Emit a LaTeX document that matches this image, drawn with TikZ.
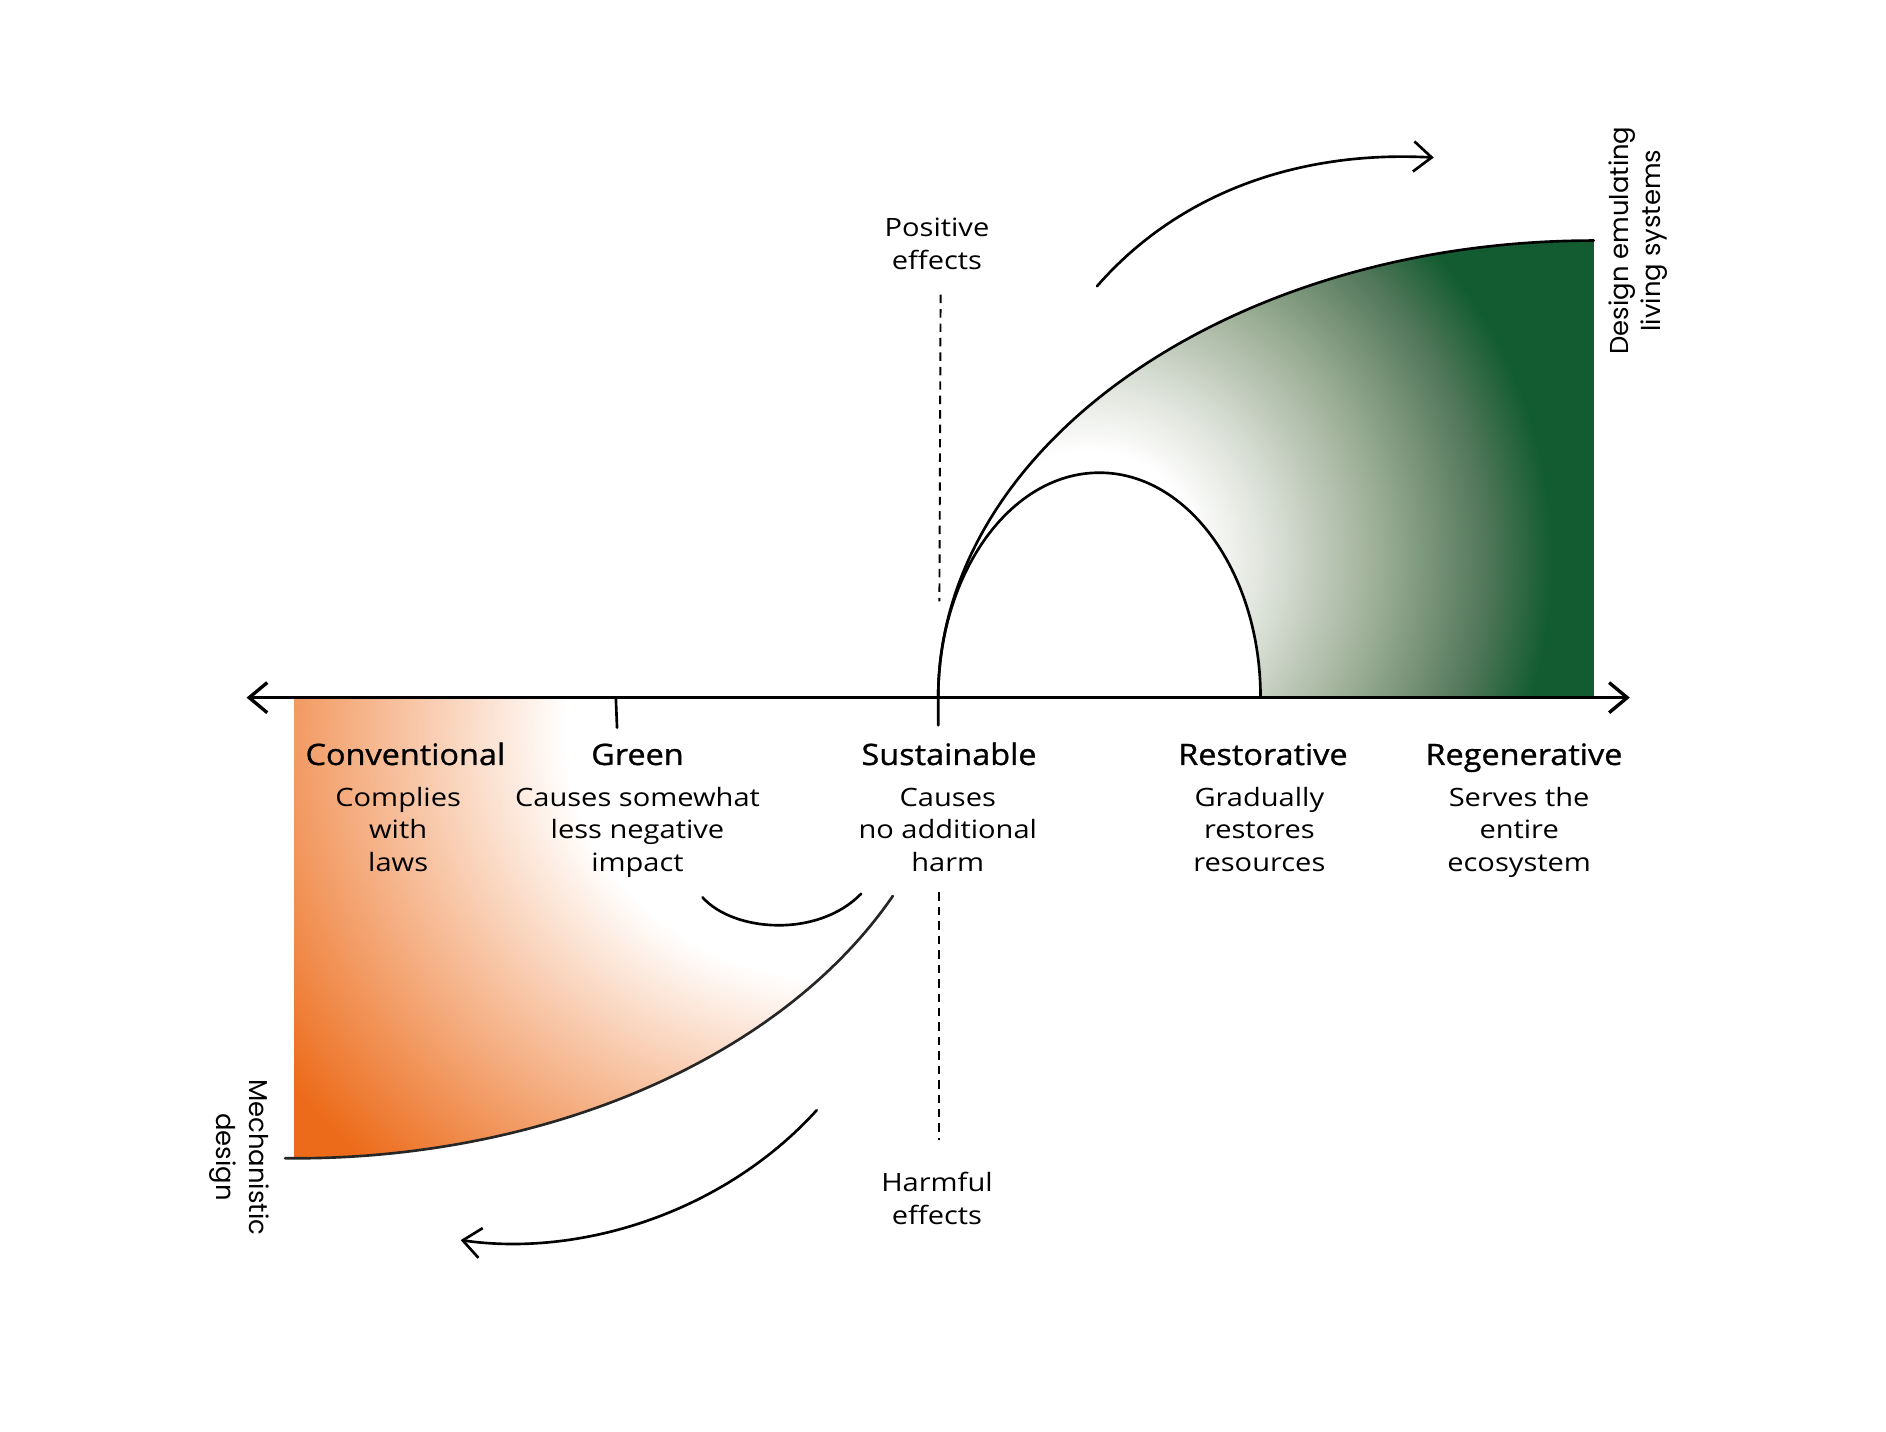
\documentclass[tikz,border=0pt]{standalone}
\usepackage{fontspec}
\setmainfont{Open Sans}[FakeStretch=1.15]
\newfontfamily\headfont{Open Sans}[FakeBold=1,FakeStretch=1.1]
\newfontfamily\rotfont{Poppins}
\usetikzlibrary{arrows.meta}
\definecolor{dkgreen}{HTML}{135C31}
\definecolor{gA}{HTML}{DDE2D9}
\definecolor{gB}{HTML}{9DAF97}
\definecolor{gC}{HTML}{52775A}
\definecolor{orng}{HTML}{EC6B1A}
\pgfdeclareradialshading{greenfade}{\pgfpoint{0bp}{0bp}}{color(0bp)=(white); color(4.33bp)=(white); color(7.21bp)=(gA); color(11.54bp)=(gB); color(15.87bp)=(gC); color(18.5bp)=(dkgreen); color(50bp)=(dkgreen)}
\pgfdeclareradialshading{orangefade}{\pgfpoint{0bp}{0bp}}{color(0bp)=(white); color(9.15bp)=(white); color(22.4bp)=(orng); color(50bp)=(orng)}
\begin{document}
\begin{tikzpicture}[x=1pt,y=-1pt,
  line/.style={line width=2.2pt, line cap=round},
  axisline/.style={line width=2.8pt, line cap=round},
  barb/.style={-{Straight Barb[length=15pt,width=25pt]}},
  dashline/.style={line width=1.6pt, dash pattern=on 7pt off 5pt},
  head/.style={font=\headfont\fontsize{24.5}{28}\selectfont, anchor=base},
  desc/.style={font=\fontsize{21}{27}\selectfont, align=center, anchor=center},
  rot/.style={font=\rotfont\fontsize{21.5}{27}\selectfont, align=center, anchor=center}]
\useasboundingbox (0,0) rectangle (1568,1190);

% green fill
\begin{scope}
\clip (780,580) arc[start angle=180,end angle=270,x radius=545,y radius=380] -- (1325,580) -- (1048,580) arc[start angle=0,end angle=-180,x radius=134,y radius=187] -- cycle;
\shade[shading=greenfade] (905,465) circle[radius=520];
\end{scope}

% orange fill
\begin{scope}
\clip (245,580) -- (245,963) arc[start angle=90,end angle=25.5,x radius=551,y radius=383] -- (780,580) -- cycle;
\shade[shading=orangefade] (700,610) ellipse[x radius=627, y radius=560];
\end{scope}

% coordinates
\coordinate (axL) at (205,580);
\coordinate (axR) at (1355,580);
\coordinate (la0) at (679,923);
\coordinate (la1) at (383,1031);
\coordinate (ua0) at (912,238);
\coordinate (ua1) at (1192,131);

% axis
\draw[axisline, {Straight Barb[length=15pt,width=25pt]}-{Straight Barb[length=15pt,width=25pt]}] (axL) -- (axR);
\draw[line] (512,580) -- (513,605);
\draw[line] (780,603) -- (780,580) arc[start angle=180,end angle=270,x radius=545,y radius=380];
\draw[line] (780,580) arc[start angle=180,end angle=360,x radius=134,y radius=187];

% orange curve
\draw[line, draw=black!85] (237,963) -- (245,963) arc[start angle=90,end angle=25.5,x radius=551,y radius=383];
\draw[line] (584,746) .. controls (610,775) and (680,780) .. (716,743);

% arrows
\draw[line, barb] (la0) .. controls (600,1010) and (480,1045) .. (la1);
\draw[line, barb] (ua0) .. controls (980,160) and (1080,125) .. (ua1);

% dashed
\draw[dashline] (782,245) -- (781,500);
\draw[dashline] (781,742) -- (781,948);

% texts
\node[head] (conv) at (337,636) {Conventional};
\node[head] (green) at (530,636) {Green};
\node[head] (sust) at (789,636) {Sustainable};
\node[head] (rest) at (1050,636) {Restorative};
\node[head] (regen) at (1267,636) {Regenerative};
\node[desc] (convd) at (331,692) {\strut Complies\\with\\laws\strut};
\node[desc] (greend) at (530,692) {\strut Causes somewhat\\less negative\\impact\strut};
\node[desc] (sustd) at (788,692) {\strut Causes\\no additional\\harm\strut};
\node[desc] (restd) at (1047,692) {\strut Gradually\\restores\\resources\strut};
\node[desc] (regend) at (1263,692) {\strut Serves the\\entire\\ecosystem\strut};
\node[desc] (pos) at (779,205) {\strut Positive\\effects\strut};
\node[desc] (harmf) at (779,999) {\strut Harmful\\effects\strut};
\node[rot, rotate=90] (dels) at (1362,200) {\strut Design emulating\\living systems\strut};
\node[rot, rotate=-90] (mech) at (199,962) {\strut Mechanistic\\design\strut};
\end{tikzpicture}
\end{document}
